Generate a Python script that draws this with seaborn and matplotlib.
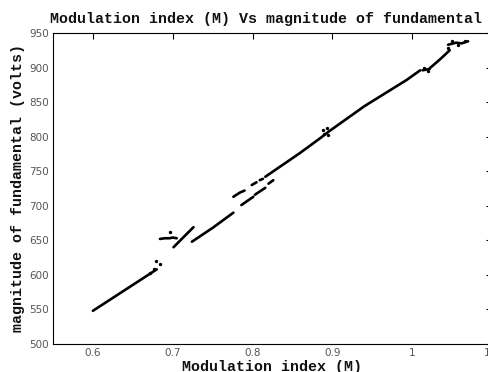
import pandas as pd
import seaborn as sns
import matplotlib.pyplot as plt

# line pieces: (segment id, modulation index, volts)
seg_ids = ["A"] * 4 + ["B"] * 5 + ["C"] * 3 + ["D"] * 3 + ["E1"] * 3 + ["E2"] * 2 + ["E3"] * 2 \
    + ["F1"] * 2 + ["F2"] * 2 + ["F3"] * 2 + ["G"] * 7 + ["H"] * 2 + ["I"] * 3 + ["J"] * 4
mod_index = [0.600, 0.636, 0.668, 0.680,
             0.684, 0.690, 0.696, 0.700, 0.705,
             0.701, 0.713, 0.726,
             0.724, 0.750, 0.776,
             0.776, 0.784, 0.790,
             0.799, 0.805,
             0.809, 0.813,
             0.786, 0.801,
             0.803, 0.816,
             0.820, 0.826,
             0.816, 0.859, 0.885, 0.895, 0.940, 0.993, 1.010,
             1.013, 1.022,
             1.022, 1.035, 1.047,
             1.045, 1.055, 1.062, 1.070]
volts = [548, 575, 599, 608,
         652, 653, 653, 654, 653,
         640, 654, 669,
         648, 668, 690,
         713, 719, 722,
         730, 734,
         737, 739,
         701, 713,
         716, 726,
         732, 737,
         742, 776, 798, 807, 844, 882, 896,
         896, 898,
         899, 912, 925,
         933, 936, 935, 938]

# stray points around the jumps
dot_m = [0.672, 0.676, 0.679, 0.684, 0.697, 0.888, 0.890, 0.893, 0.895,
         1.015, 1.020, 1.045, 1.050, 1.058, 1.066]
dot_v = [603, 608, 620, 616, 662, 809, 804, 812, 803,
         900, 895, 929, 938, 933, 939]

df = pd.DataFrame({"seg": seg_ids, "m": mod_index, "v": volts})
dots = pd.DataFrame({"m": dot_m, "v": dot_v})

sns.set_style("white")
fig = plt.figure(figsize=(4.88, 3.72), dpi=100)
ax = fig.add_axes([0.1086, 0.0753, 0.8996, 0.836])

sns.lineplot(data=df, x="m", y="v", units="seg", estimator=None, sort=False,
             color="black", linewidth=1.9, ax=ax)
sns.scatterplot(data=dots, x="m", y="v", color="black", s=6, linewidth=0, ax=ax)

ax.set_xlim(0.55, 1.1)
ax.set_ylim(500, 950)
ax.set_xticks([0.6, 0.7, 0.8, 0.9, 1.0, 1.1])
ax.set_xticklabels(["0.6", "0.7", "0.8", "0.9", "1", "1.1"])
ax.set_yticks(range(500, 951, 50))
ax.tick_params(direction="in", length=4, width=0.8, top=True, right=True,
               labelsize=7.5, labelcolor="#555555", pad=3, color="black")
for s in ax.spines.values():
    s.set_color("black")
    s.set_linewidth(0.8)

lab_font = dict(family="Liberation Mono", weight="bold", size=10.8, color="#111111")
ax.set_title("Modulation index (M) Vs magnitude of fundamental", fontdict=lab_font,
             pad=7, x=0.486)
ax.set_xlabel("Modulation index (M)", fontdict=lab_font, labelpad=1)
ax.set_ylabel("magnitude of fundamental (volts)", fontdict=lab_font, labelpad=3)

fig.savefig("out.png", dpi=100)
